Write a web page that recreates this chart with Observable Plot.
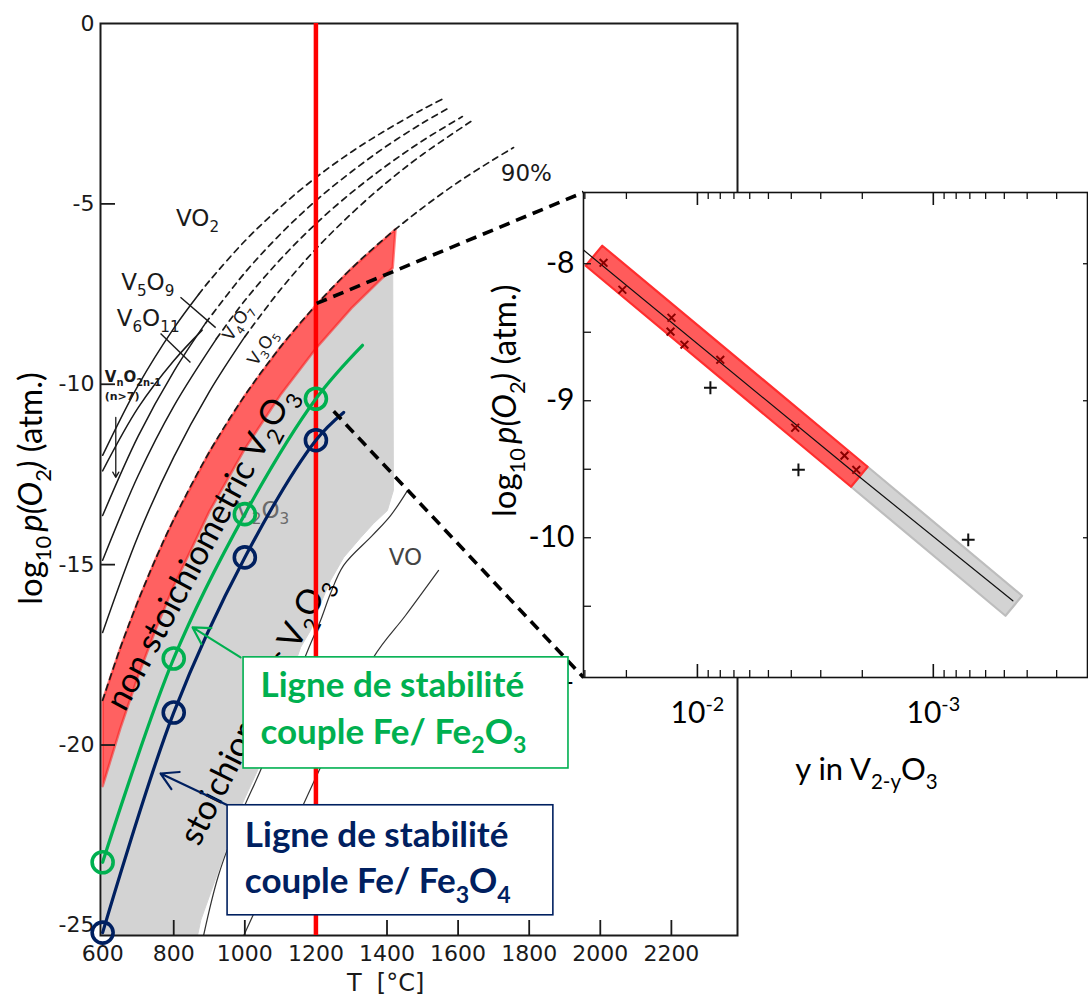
<!DOCTYPE html>
<html><head><meta charset="utf-8">
<script src="https://cdn.jsdelivr.net/npm/d3@7"></script>
<script src="https://cdn.jsdelivr.net/npm/@observablehq/plot@0.6"></script>
<style>
html,body{margin:0;padding:0;background:#fff;}
#wrap{position:relative;width:1088px;height:997px;overflow:hidden;background:#fff;}
#wrap svg{position:absolute;}
</style></head><body><div id="wrap"></div>
<script>
// ---------------- MAIN CHART DATA (T in °C, log10 pO2) ----------------
const xTickLabels = [600, 800, 1000, 1200, 1400, 1600, 1800, 2000, 2200];
const xTicks = [800, 1000, 1200, 1400, 1600, 1800, 2000, 2200];
const yTickLabels = [0, -5, -10, -15, -20, -25];
const yTicks = [-5, -10, -15, -20];

// red band: non-stoichiometric V2O3 (upper edge then lower edge back)
const redBand = [[600,-18.76],[650,-17.30],[700,-16.00],[750,-14.82],[800,-13.75],[900,-11.88],[1000,-10.31],[1100,-8.97],[1200,-7.81],[1300,-6.79],[1424,-5.70],
  [1416,-6.77],[1300,-7.89],[1200,-9.01],[1100,-10.30],[1000,-11.79],[900,-13.53],[800,-15.59],[750,-16.78],[700,-18.08],[650,-19.53],[600,-21.14],[600,-18.76]];
// gray band: stoichiometric V2O3
const grayBand = [[600,-21.14],[650,-19.53],[700,-18.08],[750,-16.78],[800,-15.59],[900,-13.53],[1000,-11.79],[1100,-10.30],[1200,-9.01],[1300,-7.89],[1416,-6.77],
  [1418,-12.94],[1401,-13.50],[1362,-13.86],[1326,-14.25],[1278,-14.80],[1241,-15.44],[1213,-16.08],[1185,-16.82],[1157,-17.29],[1036,-20.70],[988,-21.73],[923,-23.56],[876,-24.86],[867,-25.28],[600,-25.28],[600,-21.14]];

// phase boundary curves (solid part / dashed extrapolation)
const k1Solid = [[600,-11.97],[700,-10.03],[800,-8.45],[870,-7.51]];
const k1Dash  = [[870,-7.51],[900,-7.14],[1000,-6.03],[1100,-5.09],[1200,-4.27],[1300,-3.56],[1400,-2.94],[1500,-2.38],[1565,-2.05]];
const k2Solid = [[600,-13.64],[700,-11.44],[800,-9.65],[890,-8.30]];
const k2Dash  = [[890,-8.30],[1000,-6.91],[1100,-5.84],[1200,-4.91],[1300,-4.11],[1400,-3.39],[1500,-2.76],[1576,-2.33]];
const k3Solid = [[600,-14.88],[700,-12.53],[800,-10.61],[920,-8.74]];
const k3Dash  = [[920,-8.74],[1000,-7.68],[1100,-6.54],[1200,-5.55],[1300,-4.69],[1400,-3.93],[1500,-3.25],[1612,-2.58]];
const k4Solid = [[600,-16.88],[700,-14.20],[800,-12.02],[900,-10.21],[1000,-8.68]];
const k4Dash  = [[1000,-8.68],[1100,-7.38],[1200,-6.25],[1300,-5.27],[1400,-4.40],[1500,-3.63],[1640,-2.69]];
const s0Solid = [[600,-12.40],[700,-10.65],[800,-9.35],[880,-8.50]];
const line90  = [[600,-18.76],[650,-17.30],[700,-16.00],[750,-14.82],[800,-13.75],[900,-11.88],[1000,-10.31],[1100,-8.97],[1200,-7.81],[1300,-6.79],[1400,-5.90],[1500,-5.11],[1600,-4.40],[1700,-3.77],[1756,-3.44]];
const voLine1 = [[1458,-12.94],[1410,-13.64],[1359,-14.19],[1278,-15.02],[1241,-15.80],[1213,-16.55],[1177,-17.38],[1050,-20.57],[988,-21.95],[926,-23.61],[884,-25.28]];
const voLine2 = [[1545,-15.16],[1452,-16.41],[1362,-17.57],[1205,-20.79],[1064,-23.84],[997,-25.28]];

// Fe stability lines
const greenPts = [[600,-23.25],[800,-17.6],[1000,-13.6],[1200,-10.4],[1331,-8.92]];
const greenCircles = [[600,-23.25],[800,-17.6],[1000,-13.6],[1200,-10.4]];
const navyPts = [[600,-25.2],[800,-19.1],[1000,-14.8],[1200,-11.55],[1278,-10.78]];
const navyCircles = [[600,-25.2],[800,-19.1],[1000,-14.8],[1200,-11.55]];
const redT = [1200];

// zoom connectors (main chart -> inset corners)
const connectors = [
  {x1:1202, y1:-7.76, x2:1953, y2:-4.68},
  {x1:1250, y1:-10.75, x2:1953, y2:-18.13}
];
const leaders = [
  {x1:819, y1:-7.59, x2:918, y2:-8.43},
  {x1:763, y1:-8.59, x2:847, y2:-9.40}
];
const vnArrow = [{x1:637, y1:-10.92, x2:637, y2:-12.58}];

// scanned labels
const scanLabels = [
  {t:"VO_{2}", x:867, y:-5.40},
  {t:"V_{5}O_{9}", x:727, y:-7.18},
  {t:"V_{6}O_{11}", x:728, y:-8.18},
  {t:"90%", x:1792, y:-4.16}
];
const scanRotLabels = [
  {t:"V_{4}O_{7}", x:980, y:-8.29},
  {t:"V_{3}O_{5}", x:1050, y:-8.98}
];
const vnLabel = [{t:"V_{n}O_{2n-1}", x:606, y:-9.81}];
const vnSub = [{t:"(n>7)", x:606, y:-10.34}];
const faintLabels = [
  {t:"V_{2}O_{3}", x:1050, y:-13.50, c:"#6a6a6a"},
  {t:"VO", x:1452, y:-14.80, c:"#444"}
];
const bigLabels = [
  {t:"non stoichiometric V_{2}O_{3}", x:876, y:-14.55, r:-61.8},
  {t:"stoichiometric V_{2}O_{3}", x:1030, y:-19.04, r:-63.4}
];

// annotation boxes
const boxes = [
  {x1:996.5, x2:1910.5, y1:-17.57, y2:-20.65, c:"#00b050"},
  {x1:951.5, x2:1868, y1:-21.67, y2:-24.72, c:"#002060"}
];
const boxText = [
  {t:"Ligne de stabilité", x:1044, y:-18.68, c:"#00b050"},
  {t:"couple Fe/ Fe_{2}O_{3}", x:1044, y:-19.96, c:"#00b050"},
  {t:"Ligne de stabilité", x:1000, y:-22.84, c:"#002060"},
  {t:"couple Fe/ Fe_{3}O_{4}", x:1000, y:-24.11, c:"#002060"}
];
const boxArrows = [
  {x1:988, y1:-17.57, x2:853, y2:-16.74, c:"#00b050"},
  {x1:951.5, y1:-21.67, x2:763, y2:-20.79, c:"#002060"}
];

// ---------------- INSET DATA (y in V2-yO3, log10 pO2) ----------------
const insetRed  = [[0.02977,-8.0146],[0.02531,-7.8686],[0.001899,-9.4818],[0.002232,-9.6277],[0.02977,-8.0146]];
const insetGray = [[0.002232,-9.6277],[0.001899,-9.4818],[0.0004204,-10.4234],[0.0004944,-10.5693],[0.002232,-9.6277]];
const insetFit  = [[0.0304,-7.90],[0.00206,-9.555],[0.00046,-10.46]];
const xMarks = [[0.0250,-7.993],[0.0208,-8.190],[0.01288,-8.394],[0.0130,-8.496],[0.01135,-8.591],[0.0080,-8.701],[0.00385,-9.197],[0.00238,-9.401],[0.00212,-9.504]];
const plusMarks = [[0.00881,-8.905],[0.00373,-9.504],[0.000711,-10.015]];
const insetMajor = [0.01, 0.001];
const insetMinor = [0.03,0.02,0.009,0.008,0.007,0.006,0.005,0.004,0.003,0.002,0.0009,0.0008,0.0007,0.0006,0.0005,0.0004,0.0003];
const insetYTicks = [-8,-8.5,-9,-9.5,-10,-10.5];
const insetYLabels = [-8,-9,-10,-11];
const insetXLabels = [{v:0.01, t:"10^{-2}"},{v:0.001, t:"10^{-3}"}];

// ---------------- helpers ----------------
const X = d => d[0], Y = d => d[1];
const NS = "http://www.w3.org/2000/svg";
function rich(root){
  root.querySelectorAll("text").forEach(t=>{
    const targets = t.querySelector("tspan") ? [...t.querySelectorAll("tspan")] : [t];
    targets.forEach(el=>{
      const s = el.textContent;
      if(!/[_^*]\{/.test(s)) return;
      const fs = parseFloat(getComputedStyle(el).fontSize) || 16;
      const parts=[]; const re=/([_^*])\{([^}]*)\}/g; let last=0, m;
      while((m=re.exec(s))){ if(m.index>last) parts.push({k:"",t:s.slice(last,m.index)}); parts.push({k:m[1],t:m[2]}); last=re.lastIndex; }
      if(last<s.length) parts.push({k:"",t:s.slice(last)});
      el.textContent="";
      let shift=0;
      parts.forEach(p=>{
        const sp=document.createElementNS(NS,"tspan");
        const target = p.k==="_" ? 0.28*fs : p.k==="^" ? -0.40*fs : 0;
        const dy = target-shift; shift=target;
        if(dy) sp.setAttribute("dy", dy.toFixed(2));
        if(p.k==="_"||p.k==="^") sp.setAttribute("font-size", (0.66*fs).toFixed(1));
        if(p.k==="*") sp.setAttribute("font-style","italic");
        sp.textContent=p.t;
        el.appendChild(sp);
      });
    });
  });
}

const wrap = document.getElementById("wrap");
const scan = "DejaVu Sans";
const calib = "Lato";
const ink = "#1a1a1a";

const mainScales = {
  width:1088, height:997, marginLeft:100, marginRight:351, marginTop:23, marginBottom:62,
  x:{domain:[594,2386], axis:null},
  y:{domain:[-25.28,0], axis:null},
  style:{background:"transparent", overflow:"visible"}
};

// ---------------- layer 1: main chart ----------------
const main = Plot.plot({
  ...mainScales,
  marks:[
    Plot.line(grayBand, {x:X, y:Y, fill:"#d3d3d3", stroke:"#d3d3d3", strokeWidth:1}),
    Plot.line(redBand, {x:X, y:Y, fill:"#ff0000", fillOpacity:0.62, stroke:"#ff1a1a", strokeOpacity:0.55, strokeWidth:2.5}),
    ...[k1Solid,k2Solid,k3Solid,k4Solid,s0Solid].map(a=>Plot.line(a,{x:X,y:Y,stroke:ink,strokeWidth:1.5,curve:"catmull-rom"})),
    ...[k1Dash,k2Dash,k3Dash,k4Dash,line90].map(a=>Plot.line(a,{x:X,y:Y,stroke:ink,strokeWidth:1.7,strokeDasharray:"6,5",curve:"catmull-rom"})),
    Plot.line(voLine1,{x:X,y:Y,stroke:"#333",strokeWidth:1.2,curve:"catmull-rom"}),
    Plot.line(voLine2,{x:X,y:Y,stroke:"#333",strokeWidth:1.2,curve:"catmull-rom"}),
    Plot.link(leaders,{x1:"x1",y1:"y1",x2:"x2",y2:"y2",stroke:ink,strokeWidth:1.4}),
    Plot.arrow(vnArrow,{x1:"x1",y1:"y1",x2:"x2",y2:"y2",stroke:ink,strokeWidth:1.3,headLength:7}),
    Plot.text(scanLabels,{x:"x",y:"y",text:"t",fontFamily:scan,fontSize:23,fill:ink}),
    Plot.text(scanRotLabels,{x:"x",y:"y",text:"t",fontFamily:scan,fontSize:17,fill:ink,rotate:-56}),
    Plot.text(vnLabel,{x:"x",y:"y",text:"t",fontFamily:scan,fontSize:15,fontWeight:"bold",fill:ink,textAnchor:"start"}),
    Plot.text(vnSub,{x:"x",y:"y",text:"t",fontFamily:scan,fontSize:11,fontWeight:"bold",fill:ink,textAnchor:"start"}),
    Plot.text(faintLabels,{x:"x",y:"y",text:"t",fontFamily:scan,fontSize:23,fill:d=>d.c}),
    // frame, ticks and labels
    Plot.frame({stroke:ink, strokeWidth:2}),
    Plot.tickX(xTicks,{x:d=>d, insetTop:912-15, stroke:ink, strokeWidth:1.8}),
    Plot.tickY(yTicks,{y:d=>d, insetRight:637-15, stroke:ink, strokeWidth:1.8}),
    Plot.text(xTickLabels,{x:d=>d, frameAnchor:"bottom", lineAnchor:"middle", dy:18, text:d=>String(d), fontFamily:scan, fontSize:22, fill:ink}),
    Plot.text(yTickLabels,{y:d=>d, frameAnchor:"left", dx:-6, textAnchor:"end", text:d=>String(d), fontFamily:scan, fontSize:22, fill:ink}),
    Plot.text(["T  [°C]"],{x:1396, frameAnchor:"bottom", lineAnchor:"middle", dy:48, text:d=>d, fontFamily:scan, fontSize:24, fill:ink}),
    Plot.text(["log_{10}\u2009*{p(O}_{2}*{)} (atm.)"],{y:-12.89, frameAnchor:"left", textAnchor:"middle", dx:-69, rotate:-90, text:d=>d, fontFamily:calib, fontSize:33, fill:"#000"}),
    Plot.text(bigLabels,{x:"x",y:"y",text:"t",rotate:d=>d.r,fontFamily:calib,fontSize:34,fill:"#000"}),
    Plot.ruleX(redT,{x:d=>d, stroke:"#ff0000", strokeWidth:4.5}),
    Plot.line(greenPts,{x:X,y:Y,stroke:"#00b050",strokeWidth:3.2,curve:"catmull-rom"}),
    Plot.dot(greenCircles,{x:X,y:Y,r:10.5,stroke:"#00b050",strokeWidth:3.6,fill:"none"}),
    Plot.line(navyPts,{x:X,y:Y,stroke:"#002060",strokeWidth:3.2,curve:"catmull-rom"}),
    Plot.dot(navyCircles,{x:X,y:Y,r:10.5,stroke:"#002060",strokeWidth:3.6,fill:"none"}),
    Plot.link(connectors,{x1:"x1",y1:"y1",x2:"x2",y2:"y2",stroke:"#000",strokeWidth:3.6,strokeDasharray:"11,7"})
  ]
});
wrap.appendChild(main);
main.style.left="0px"; main.style.top="0px";
rich(main);

// ---------------- layer 2: inset ----------------
const iw=618, ih=640, iml=113, imt=12, imr=1, imb=143;
const fw = iw-iml-imr, fh = ih-imt-imb;
const inset = Plot.plot({
  width:iw, height:ih, marginLeft:iml, marginTop:imt, marginRight:imr, marginBottom:imb,
  x:{type:"log", domain:[0.0304, 0.000222], axis:null},
  y:{domain:[-11.02,-7.48], axis:null},
  style:{background:"transparent", overflow:"visible"},
  marks:[
    Plot.frame({fill:"#fff", stroke:"none"}),
    Plot.line(insetGray,{x:X,y:Y,fill:"#d3d3d3",stroke:"#bdbdbd",strokeWidth:2.2}),
    Plot.line(insetRed,{x:X,y:Y,fill:"#ff5b5b",stroke:"#ff2e2e",strokeWidth:2.2}),
    Plot.line(insetFit,{x:X,y:Y,stroke:"#111",strokeWidth:1.2}),
    Plot.dot(xMarks,{x:X,y:Y,symbol:"times",r:3.6,stroke:"#8a0000",strokeWidth:2}),
    Plot.dot(plusMarks,{x:X,y:Y,symbol:"plus",r:4.2,stroke:"#111",strokeWidth:2}),
    Plot.tickX(insetMinor,{x:d=>d, insetTop:fh-7, stroke:"#111", strokeWidth:1.3}),
    Plot.tickX(insetMinor,{x:d=>d, insetBottom:fh-7, stroke:"#111", strokeWidth:1.3}),
    Plot.tickX(insetMajor,{x:d=>d, insetTop:fh-13, stroke:"#111", strokeWidth:1.6}),
    Plot.tickX(insetMajor,{x:d=>d, insetBottom:fh-13, stroke:"#111", strokeWidth:1.6}),
    Plot.tickY(insetYTicks,{y:d=>d, insetRight:fw-8, stroke:"#111", strokeWidth:1.3}),
    Plot.tickY(insetYLabels.slice(0,3),{y:d=>d, insetLeft:fw-4, stroke:"#111", strokeWidth:1.3}),
    Plot.frame({stroke:"#111", strokeWidth:1.6}),
    Plot.text(insetYLabels,{y:d=>d, frameAnchor:"left", dx:-9, textAnchor:"end", text:d=>String(d), fontFamily:calib, fontSize:30, fill:"#000"}),
    Plot.text(insetXLabels,{x:"v", frameAnchor:"bottom", lineAnchor:"middle", dy:36, text:"t", fontFamily:calib, fontSize:30, fill:"#000"}),
    Plot.text(["y in V_{2-y}O_{3}"],{x:0.00192, frameAnchor:"bottom", lineAnchor:"middle", dy:93, text:d=>d, fontFamily:calib, fontSize:31, fill:"#000"}),
    Plot.text(["log_{10}\u2009*{p(O}_{2}*{)} (atm.)"],{y:-9.0, frameAnchor:"left", textAnchor:"middle", dx:-78, rotate:-90, text:d=>d, fontFamily:calib, fontSize:33, fill:"#000"})
  ]
});
wrap.appendChild(inset);
inset.style.left="470px"; inset.style.top="180px";
rich(inset);

// ---------------- layer 3: label boxes over everything ----------------
const notes = Plot.plot({
  ...mainScales,
  marks:[
    Plot.arrow(boxArrows,{x1:"x1",y1:"y1",x2:"x2",y2:"y2",stroke:d=>d.c,strokeWidth:2.2,headLength:13}),
    Plot.rect(boxes,{x1:"x1",x2:"x2",y1:"y1",y2:"y2",fill:"#fff",stroke:d=>d.c,strokeWidth:1.6}),
    Plot.text(boxText,{x:"x",y:"y",text:"t",fill:d=>d.c,textAnchor:"start",lineAnchor:"bottom",fontFamily:calib,fontWeight:"bold",fontSize:35})
  ]
});
wrap.appendChild(notes);
notes.style.left="0px"; notes.style.top="0px"; notes.style.pointerEvents="none";
rich(notes);
</script>
</body></html>
